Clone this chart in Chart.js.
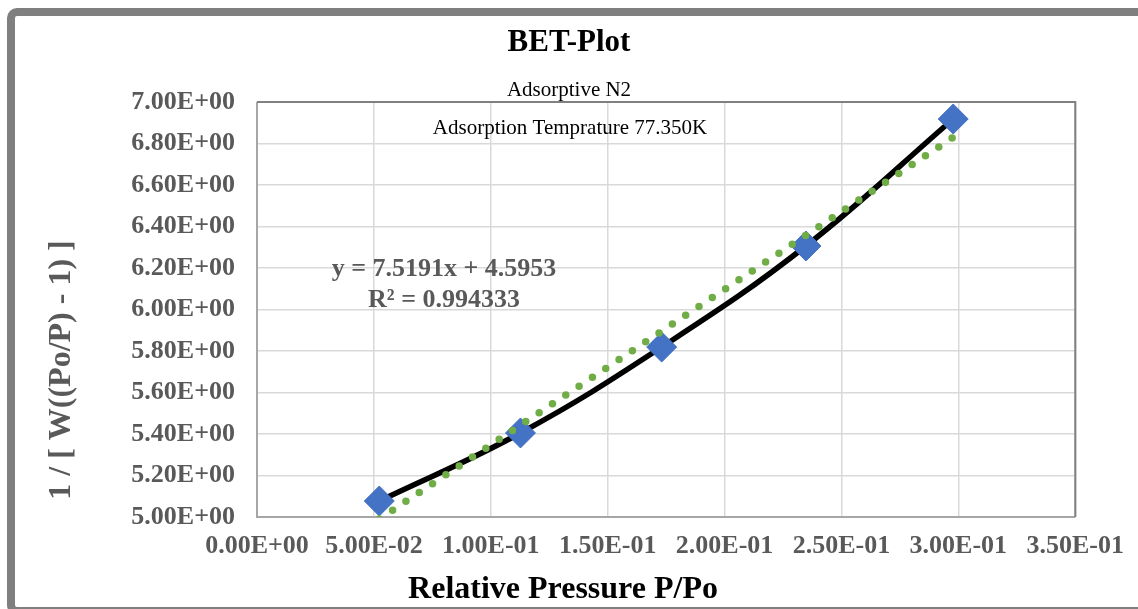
<!DOCTYPE html>
<html lang="en">
<head>
    <meta charset="UTF-8">
    <title>BET-Plot</title>
    <style>
      html, body { margin: 0; padding: 0; background: #fff; }
    </style>
</head>
<body>
    <div style="width: 1138px; height: 609px; position: relative;">
        <canvas id="grafico"></canvas>
    </div>
    <script src="https://cdn.jsdelivr.net/npm/chart.js"></script>
    <script>
      // values
      const pressure = [0.0523, 0.1127, 0.1731, 0.2348, 0.2978];
      const invW = [5.077, 5.405, 5.819, 6.306, 6.918];
      const trendX = [0.0523, 0.2978];
      const trendY = [4.99, 6.83];
      const xTicks = [0, 0.05, 0.10, 0.15, 0.20, 0.25, 0.30, 0.35];
      const yTicks = [5.0, 5.2, 5.4, 5.6, 5.8, 6.0, 6.2, 6.4, 6.6, 6.8, 7.0];

      const serif = '"Liberation Serif", "Times New Roman", serif';
      const grey = '#595959';

      // Excel style 0.00E+00
      const sci = (v) => {
        let [m, e] = Number(v).toExponential(2).split('e');
        let sign = e[0] === '-' ? '-' : '+';
        let n = e.replace('+', '').replace('-', '');
        if (n.length < 2) n = '0' + n;
        return m + 'E' + sign + n;
      };

      const extras = {
        id: 'extras',
        beforeDraw(chart) {
          const c = chart.ctx;
          c.save();
          c.fillStyle = '#fff';
          c.fillRect(0, 0, chart.width, chart.height);
          c.strokeStyle = '#7f7f7f';
          c.lineWidth = 8;
          c.beginPath();
          c.roundRect(11, 12, 1150, 599, 6);
          c.stroke();
          c.restore();
        },
        beforeDatasetsDraw(chart) {
          const a = chart.chartArea;
          const c = chart.ctx;
          c.save();
          c.lineWidth = 2;
          c.strokeStyle = '#a6a6a6';
          c.beginPath();
          c.moveTo(a.left, a.top);
          c.lineTo(a.left, a.bottom);
          c.lineTo(a.right, a.bottom);
          c.stroke();
          c.strokeStyle = '#808080';
          c.beginPath();
          c.moveTo(a.left, a.top);
          c.lineTo(a.right, a.top);
          c.lineTo(a.right, a.bottom);
          c.stroke();
          c.restore();
        },
        afterDraw(chart) {
          const c = chart.ctx;
          c.save();
          c.textAlign = 'center';
          c.textBaseline = 'middle';

          c.fillStyle = '#000';
          c.font = 'bold 31px ' + serif;
          c.fillText('BET-Plot', 569, 43);

          c.font = '21px ' + serif;
          c.fillText('Adsorptive N2', 569, 90);
          c.fillText('Adsorption Temprature 77.350K', 570, 128);

          c.font = 'bold 32px ' + serif;
          c.fillText('Relative Pressure P/Po', 563, 590);

          c.fillStyle = grey;
          c.font = 'bold 26px ' + serif;
          c.fillText('y = 7.5191x + 4.5953', 444, 269);
          c.fillText('R² = 0.994333', 444, 300);

          c.translate(62, 370);
          c.rotate(-Math.PI / 2);
          c.font = 'bold 32px ' + serif;
          c.fillText('1 / [ W((Po/P) - 1) ]', 0, 0);
          c.restore();
        }
      };

      const ctx = document.getElementById('grafico');

      new Chart(ctx, {
        type: 'scatter',
        data: {
          datasets: [{
            label: 'Linear',
            data: trendX.map((x, i) => ({ x: x, y: trendY[i] })),
            showLine: true,
            borderColor: '#70ad47',
            borderWidth: 7.5,
            borderDash: [0, 16],
            borderCapStyle: 'round',
            pointRadius: 0,
            order: 0
          }, {
            label: 'BET',
            data: pressure.map((x, i) => ({ x: x, y: invW[i] })),
            showLine: true,
            borderColor: '#000',
            borderWidth: 5.5,
            tension: 0.4,
            pointStyle: 'rectRot',
            pointRadius: 15,
            pointBackgroundColor: '#4472c4',
            pointBorderColor: '#4472c4',
            pointBorderWidth: 1,
            order: 1
          }]
        },
        options: {
          responsive: true,
          maintainAspectRatio: false,
          animation: false,
          layout: {
            padding: { left: 15, top: 102, right: 62, bottom: 0 }
          },
          plugins: {
            legend: { display: false },
            tooltip: { enabled: false }
          },
          scales: {
            x: {
              type: 'linear',
              min: 0,
              max: 0.35,
              afterBuildTicks: (s) => { s.ticks = xTicks.map(v => ({ value: v })); },
              afterFit: (s) => { s.height = 92; },
              ticks: {
                callback: (v) => sci(v),
                font: { family: serif, size: 26, weight: 'bold' },
                color: grey,
                padding: 14,
                maxRotation: 0,
                autoSkip: false
              },
              grid: { color: '#d9d9d9', lineWidth: 1.5, drawTicks: false },
              border: { display: false }
            },
            y: {
              min: 5,
              max: 7,
              afterBuildTicks: (s) => { s.ticks = yTicks.map(v => ({ value: v })); },
              afterFit: (s) => { s.width = 242; },
              ticks: {
                callback: (v) => sci(v),
                font: { family: serif, size: 26, weight: 'bold' },
                color: grey,
                padding: 22,
                autoSkip: false
              },
              grid: { color: '#d9d9d9', lineWidth: 1.5, drawTicks: false },
              border: { display: false }
            }
          }
        },
        plugins: [extras]
      });
    </script>
</body>
</html>
